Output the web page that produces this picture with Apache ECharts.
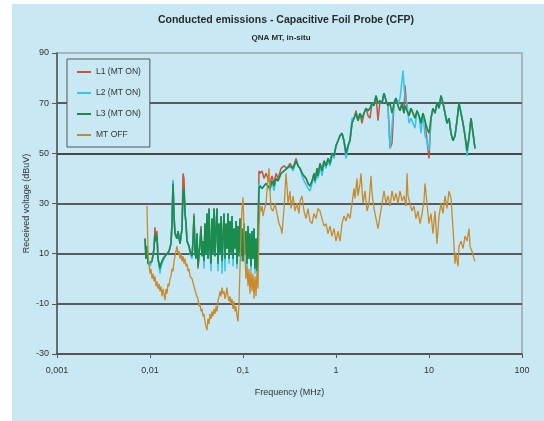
<!DOCTYPE html>
<html>
<head>
<meta charset="utf-8">
<script src="https://cdn.jsdelivr.net/npm/echarts@6/dist/echarts.min.js"></script>
<style>
  html, body { margin: 0; padding: 0; background: #ffffff; }
  #chart { width: 544px; height: 421px; }
</style>
</head>
<body>
<div id="chart"></div>
<script>
// Frequency sweep points (MHz) for the three line measurements with the machine running
var freqOn = [
  0.00884, 0.00906, 0.00928, 0.00952, 0.0100, 0.01051, 0.01104, 0.01132, 0.0116, 0.01189,
  0.01219, 0.01281, 0.01313, 0.0138, 0.0145, 0.01524, 0.01601, 0.01682, 0.01724, 0.01768,
  0.01812, 0.01857, 0.01952, 0.0200, 0.02102, 0.02209, 0.02264, 0.02321, 0.02379, 0.02439,
  0.0250, 0.02627, 0.02693, 0.02829, 0.0290, 0.02973, 0.03047, 0.03124, 0.03202, 0.03282,
  0.03449, 0.03536, 0.03624, 0.03715, 0.03808, 0.03903, 0.04001, 0.04102, 0.04204, 0.0431,
  0.04418, 0.04529, 0.04642, 0.04759, 0.04878, 0.0500, 0.05125, 0.05254, 0.05386, 0.05521,
  0.05658, 0.0580, 0.05946, 0.06248, 0.06405, 0.06565, 0.0673, 0.06899, 0.07072, 0.07249,
  0.07431, 0.07617, 0.07808, 0.08004, 0.08204, 0.0841, 0.08621, 0.08837, 0.09058, 0.09285,
  0.09518, 0.09757, 0.100, 0.1025, 0.1051, 0.1077, 0.1104, 0.1132, 0.116, 0.1189,
  0.1219, 0.125, 0.1281, 0.1313, 0.1346, 0.138, 0.1414, 0.145, 0.1486, 0.1524,
  0.1601, 0.1682, 0.1767, 0.1857, 0.1952, 0.2051, 0.2155, 0.2264, 0.2379, 0.2563,
  0.2762, 0.2975, 0.3205, 0.3453, 0.372, 0.3909, 0.4107, 0.4316, 0.4534, 0.4764,
  0.5006, 0.526, 0.5527, 0.5807, 0.5953, 0.6256, 0.6412, 0.6737, 0.7079, 0.7438,
  0.7815, 0.8212, 0.8628, 0.9066, 0.9526, 1.0, 1.051, 1.104, 1.16, 1.219,
  1.281, 1.346, 1.414, 1.486, 1.562, 1.641, 1.724, 1.812, 1.904, 2.0,
  2.102, 2.209, 2.321, 2.439, 2.563, 2.693, 2.829, 2.973, 3.124, 3.282,
  3.449, 3.624, 3.808, 4.001, 4.204, 4.418, 4.642, 4.878, 5.125, 5.254,
  5.386, 5.521, 5.8, 6.095, 6.405, 6.73, 7.072, 7.431, 7.808, 8.204,
  8.621, 9.058, 9.518, 10.0, 10.51, 11.04, 11.6, 12.19, 12.81, 13.46,
  14.14, 14.86, 15.62, 16.41, 17.24, 18.12, 19.04, 20.0, 21.02, 22.09,
  23.21, 24.39, 25.63, 26.93, 28.29, 29.73, 31.24
];

// Received voltage (dBuV), line L1, machine on
var l1On = [
  16, 8, 13, 6, 5.5, 7, 12, 20.5, 15, 19,
  8, 4, 6, 8, 9, 10, 11, 14, 22, 39,
  25, 18, 16, 19, 14, 20, 42, 40, 26, 22,
  15, 13, 11, 9, 15, 26, 11, 8, 18, 4,
  14, 21, 9, 15, 7, 22, 10, 26, 8, 28,
  12, 6, 24, 10, 28, 9, 20, 28, 6, 22,
  10, 25, 7, 26, 8, 22, 12, 26, 8, 23,
  10, 25, 8, 20, 12, 23, 6, 21, 9, 24,
  9, 20, 7, 22, 10, 19, 6, 21, 8, 18,
  5, 19, 8, 20, 4, 16, 3, 17, 43, 42,
  43, 40, 42, 40, 38, 41, 38, 42, 40, 44,
  45, 44, 46, 44, 48, 45, 44, 42, 41, 40,
  38, 37, 39, 42, 39, 44, 41, 46, 43, 47,
  45, 48, 46, 50, 49, 53, 55, 57, 58, 55,
  50, 53, 55, 62, 64, 67, 63, 66, 62, 66,
  68, 65, 64, 70, 69, 73, 63, 71, 70, 74,
  71, 69, 52, 54, 70, 72, 69, 67, 70, 68,
  66, 77, 67, 65, 68, 66, 64, 67, 65, 62,
  66, 63, 55, 48, 64, 68, 66, 70, 68, 73,
  70, 66, 62, 64, 58, 55, 57, 63, 70, 66,
  62, 57, 52, 56, 64, 58, 52
];

// Received voltage (dBuV), line L2, machine on
var l2On = [
  16, 8, 13, 6, 5, 7, 12, 18, 15, 17,
  8, 2, 5, 7, 9, 10, 11, 14, 22, 39.5,
  25, 18, 16, 19, 14, 20, 34, 36, 26, 22,
  15, 13, 10, 8, 15, 25, 11, 8, 18, 5,
  14, 20, 9, 15, 4, 22, 10, 26, 8, 27,
  12, 3, 24, 10, 28, 9, 20, 27, 3, 22,
  10, 25, 2, 26, 3, 22, 12, 26, 6, 23,
  10, 25, 5, 20, 12, 23, 4, 21, 9, 24,
  7, 20, 7, 22, 10, 19, 4, 21, 8, 18,
  3, 19, 8, 20, 2, 16, 3, 17, 38, 37,
  36, 37, 38, 37, 35, 39, 35, 40, 39, 42,
  43, 44, 45, 43, 47, 45, 44, 41, 39, 39,
  36, 35, 38, 41, 38, 43, 40, 45, 41, 46,
  44, 47, 45, 49, 48, 53, 55, 57, 58, 55,
  48, 52, 56, 64, 64, 66, 63, 66, 64, 66,
  68, 67, 68, 70, 69, 73, 70, 71, 70, 74,
  71, 69, 52, 52, 70, 72, 69, 72, 79, 83,
  77, 72, 70, 62, 64, 62, 60, 67, 65, 58,
  66, 57, 55, 51, 64, 68, 66, 70, 68, 73,
  70, 66, 62, 64, 58, 55, 57, 63, 70, 66,
  62, 57, 49, 56, 64, 58, 52
];

// Received voltage (dBuV), line L3, machine on
var l3On = [
  16, 8, 13, 6, 5.5, 7, 12, 18, 15, 17,
  8, 4, 6, 8, 9, 10, 11, 14, 22, 38,
  25, 18, 16, 19, 14, 20, 34, 36, 26, 22,
  15, 13, 11, 9, 15, 25, 11, 8, 18, 5,
  14, 20, 9, 15, 7, 22, 10, 26, 8, 28,
  12, 6, 24, 10, 28, 9, 20, 28, 6, 22,
  10, 25, 7, 26, 8, 22, 12, 26, 8, 23,
  10, 25, 8, 20, 12, 23, 6, 21, 9, 24,
  9, 20, 7, 22, 10, 19, 6, 21, 8, 18,
  5, 19, 8, 20, 4, 16, 3, 17, 36, 37,
  36, 37, 38, 37, 36, 39, 37, 40, 39, 42,
  43, 44, 45, 44, 47, 45, 44, 42, 41, 40,
  38, 37, 39, 42, 39, 44, 41, 46, 43, 47,
  45, 48, 46, 50, 49, 53, 55, 57, 58, 55,
  50, 53, 55, 62, 64, 66, 63, 66, 64, 66,
  68, 67, 68, 70, 69, 73, 70, 71, 70, 74,
  71, 69, 70, 66, 70, 72, 69, 67, 70, 68,
  66, 69, 67, 65, 68, 66, 64, 67, 65, 62,
  66, 63, 60, 58, 64, 68, 66, 70, 68, 73,
  70, 66, 62, 64, 58, 55, 57, 63, 70, 66,
  62, 57, 51, 56, 64, 58, 52
];

// Frequency sweep points (MHz) for the background measurement, machine off
var freqOff = [
  0.00928, 0.00952, 0.00976, 0.0100, 0.01025, 0.01051, 0.01077, 0.01104, 0.01132, 0.0116,
  0.01189, 0.01219, 0.0125, 0.01281, 0.01313, 0.01346, 0.0138, 0.01414, 0.0145, 0.01486,
  0.01524, 0.01562, 0.01601, 0.01641, 0.01682, 0.01724, 0.01768, 0.01812, 0.01857, 0.01904,
  0.01952, 0.0200, 0.02051, 0.02102, 0.02155, 0.02209, 0.02264, 0.02321, 0.02379, 0.02439,
  0.0250, 0.02563, 0.02627, 0.02693, 0.02829, 0.02973, 0.03124, 0.03282, 0.03365, 0.03449,
  0.03536, 0.03624, 0.03715, 0.03808, 0.03903, 0.04001, 0.04102, 0.04204, 0.0431, 0.04418,
  0.04529, 0.04642, 0.04759, 0.04878, 0.0500, 0.05125, 0.05254, 0.05386, 0.05521, 0.05658,
  0.0580, 0.05946, 0.06095, 0.06248, 0.06405, 0.06565, 0.0673, 0.06899, 0.07072, 0.07249,
  0.07431, 0.07617, 0.07808, 0.08004, 0.08204, 0.0841, 0.08621, 0.08837, 0.09058, 0.09285,
  0.09518, 0.09757, 0.100, 0.1025, 0.1051, 0.1077, 0.1104, 0.1132, 0.116, 0.1189,
  0.1219, 0.125, 0.1281, 0.1313, 0.1346, 0.138, 0.1414, 0.145, 0.1486, 0.1524,
  0.1562, 0.1601, 0.1641, 0.1682, 0.1767, 0.1857, 0.1904, 0.1952, 0.2000, 0.2102,
  0.2209, 0.2321, 0.2439, 0.2563, 0.2627, 0.2762, 0.2900, 0.2973, 0.3047, 0.3202,
  0.3282, 0.3449, 0.3624, 0.3808, 0.4001, 0.4102, 0.4310, 0.4529, 0.4759, 0.5000,
  0.5254, 0.5521, 0.5800, 0.6095, 0.6405, 0.6730, 0.7072, 0.7431, 0.7808, 0.8204,
  0.8621, 0.9058, 0.9518, 1.0, 1.051, 1.104, 1.16, 1.219, 1.281, 1.346,
  1.414, 1.486, 1.562, 1.601, 1.682, 1.724, 1.812, 1.857, 1.952, 2.051,
  2.155, 2.264, 2.379, 2.439, 2.563, 2.693, 2.829, 2.973, 3.124, 3.282,
  3.449, 3.624, 3.808, 4.001, 4.204, 4.418, 4.642, 4.878, 5.125, 5.386,
  5.658, 5.8, 5.946, 6.248, 6.565, 6.899, 7.249, 7.617, 8.004, 8.41,
  8.837, 9.058, 9.518, 10.0, 10.51, 11.04, 11.6, 12.19, 12.81, 13.46,
  14.14, 14.86, 15.62, 16.41, 17.24, 18.12, 19.04, 19.52, 20.51, 21.02,
  22.09, 23.21, 24.39, 25.63, 26.93, 27.6, 29.0, 30.47, 31.24
];

// Received voltage (dBuV), machine off
var mtOff = [
  29, 10, 6, 2, 4, 0, 2, -1, 1, -3,
  -1, -4, -2, -5, -3, -7, -4, -6, -8.5, -4,
  -6, -2, -3, 0, 1, 4, 3, 7, 9, 11,
  13, 10, 11, 8, 10, 7, 9, 6, 8, 5,
  6, 3, 4, 1, 0, -3, -6, -8, -11, -10,
  -13, -12, -15, -14, -17, -19, -20.5, -16, -18, -14,
  -16, -13, -15, -12, -14, -11, -13, -9, -7, -5,
  -7, -3.5, -6, -5, -8, -6, -3.5, -7, -9, -7,
  -10, -8, -12, -9, -13, -11, -15, -17, -10, 5,
  18, 28, 32.5, 20, 8, 0, 5, -3, 4, -6,
  3, -5, 2, -8, 1, -7, 3, -4, 20, 29,
  27, 29, 25, 27, 30, 40, 44, 35, 28, 27,
  30, 26, 22, 20, 18, 28, 42, 37, 30, 35,
  28, 33, 27, 30, 26, 31, 33, 27, 24, 28,
  23, 22, 26, 24, 28, 27, 24, 21, 22, 18,
  21, 17, 20, 15, 19, 15, 22, 25, 23, 26,
  24, 30, 36, 32, 40, 33, 38, 42, 30, 35,
  27, 30, 41, 34, 28, 24, 20, 25, 30, 35,
  30, 33, 29, 35, 31, 34, 30, 35, 31, 33,
  29, 42, 33, 30, 27, 29, 24, 27, 22, 26,
  31, 38, 30, 22, 26, 18, 27, 14, 25, 30,
  26, 33, 28, 35, 32, 20, 6, 10, 5, 13,
  15, 12, 17, 15, 20, 13, 11, 8, 7
];

// Axis tick labels (decimal comma)
var xTickLabels = { '0.001': '0,001', '0.01': '0,01', '0.1': '0,1', '1': '1', '10': '10', '100': '100' };
var seriesNames = ['L1 (MT ON)', 'L2 (MT ON)', 'L3 (MT ON)', 'MT OFF'];

function pairs(xs, ys) {
  return xs.map(function (x, i) { return [x, ys[i]]; });
}

var panelColor = '#c8e9f3';
var textColor = '#333333';
var fontFamily = '"Liberation Sans", Arial, sans-serif';

var chart = echarts.init(document.getElementById('chart'), null, { renderer: 'canvas' });

function lineSeries(name, data, color, width) {
  return {
    name: name,
    type: 'line',
    data: data,
    showSymbol: false,
    symbol: 'none',
    lineStyle: { color: color, width: width },
    itemStyle: { color: color },
    animation: false
  };
}

chart.setOption({
  backgroundColor: '#ffffff',
  animation: false,
  textStyle: { fontFamily: fontFamily },
  graphic: [{
    type: 'rect',
    left: 12, top: 4,
    shape: { width: 532, height: 417 },
    style: { fill: panelColor },
    z: -10
  }],
  title: [{
    text: 'Conducted emissions - Capacitive Foil Probe (CFP)',
    left: 281, top: 10, textAlign: 'center',
    textStyle: { fontSize: 10.5, fontWeight: 'bold', color: '#2a2a2a', fontFamily: fontFamily }
  }, {
    text: 'QNA MT, in-situ',
    left: 276, top: 29, textAlign: 'center',
    textStyle: { fontSize: 8, fontWeight: 'bold', color: '#2a2a2a', fontFamily: fontFamily }
  }],
  legend: {
    orient: 'vertical',
    left: 67, top: 59,
    padding: [7, 9, 6, 10],
    itemGap: 9,
    itemWidth: 14, itemHeight: 2,
    icon: 'rect',
    backgroundColor: panelColor,
    borderColor: '#555',
    borderWidth: 1,
    textStyle: { fontSize: 8.5, color: textColor, lineHeight: 12, fontFamily: fontFamily },
    data: seriesNames
  },
  grid: {
    left: 57, right: 22, top: 53, bottom: 67,
    show: true, borderColor: '#a9b4b8', borderWidth: 2,
    backgroundColor: 'transparent'
  },
  xAxis: {
    type: 'log', logBase: 10, min: 0.001, max: 100,
    name: 'Frequency (MHz)', nameLocation: 'middle', nameGap: 34,
    nameMoveOverlap: false,
    nameTextStyle: { fontSize: 9, color: textColor },
    axisLine: { show: true, onZero: false, lineStyle: { color: '#555', width: 1.5 } },
    axisTick: { show: true, inside: false, length: 4, lineStyle: { color: '#555' } },
    minorTick: { show: false },
    axisLabel: {
      fontSize: 9, color: textColor, margin: 12,
      formatter: function (v) { var k = String(Number(v.toPrecision(6))); return xTickLabels[k] || k; }
    },
    splitLine: { show: false }
  },
  yAxis: {
    type: 'value', min: -30, max: 90, interval: 20,
    name: 'Received voltage (dBuV)', nameLocation: 'middle', nameGap: 26, nameRotate: 90,
    nameMoveOverlap: false,
    nameTextStyle: { fontSize: 9, color: textColor },
    axisLine: { show: true, onZero: false, lineStyle: { color: '#555', width: 1.5 } },
    axisTick: { show: true, inside: false, length: 5, lineStyle: { color: '#555' } },
    axisLabel: { fontSize: 9, color: textColor, margin: 8 },
    splitLine: {
      show: true,
      lineStyle: { color: ['#555', '#5a5a5a', '#5a5a5a', '#5a5a5a', '#474747', '#5a5a5a', '#a9b4b8'], width: 2 }
    }
  },
  series: [
    lineSeries(seriesNames[0], pairs(freqOn, l1On), '#c4563c', 1.5),
    lineSeries(seriesNames[1], pairs(freqOn, l2On), '#36c4ee', 1.5),
    lineSeries(seriesNames[2], pairs(freqOn, l3On), '#1a8c4e', 1.6),
    lineSeries(seriesNames[3], pairs(freqOff, mtOff), '#c98a2e', 1.3)
  ]
});
</script>
</body>
</html>
